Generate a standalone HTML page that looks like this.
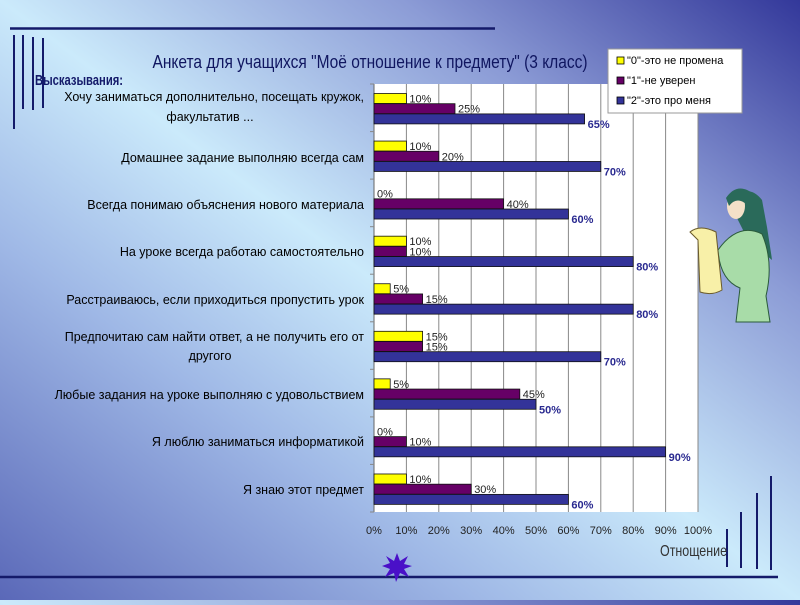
<!DOCTYPE html>
<html><head><meta charset="utf-8"><style>
html,body{margin:0;padding:0;}
body{width:800px;height:600px;overflow:hidden;background:linear-gradient(to top right,#5a68b8 0%,#9fb8e6 30%,#cbeafb 50%,#8c9cd6 75%,#33389a 100%);font-family:"Liberation Sans",sans-serif;}
svg text{font-family:"Liberation Sans",sans-serif;}
</style></head><body>
<svg width="800" height="600" viewBox="0 0 800 600" xmlns="http://www.w3.org/2000/svg">
<line x1="10" y1="28.5" x2="495" y2="28.5" stroke="#141a6a" stroke-width="2.5"/>
<line x1="0" y1="577" x2="778" y2="577" stroke="#141a6a" stroke-width="2.5"/>
<g stroke="#141a6a" stroke-width="2">
<line x1="14" y1="35" x2="14" y2="129"/><line x1="23" y1="35" x2="23" y2="109"/>
<line x1="33" y1="37" x2="33" y2="110"/><line x1="43" y1="38" x2="43" y2="108"/>
<line x1="727" y1="529" x2="727" y2="567"/><line x1="741" y1="512" x2="741" y2="568"/>
<line x1="757" y1="493" x2="757" y2="569"/><line x1="771" y1="476" x2="771" y2="570"/>
</g>
<polygon points="397,553 400,561 408,556 404,564 412,566 404,569 409,577 400,573 396,582 394,573 385,577 390,569 382,566 390,563 386,556 394,561" fill="#4a10c8"/>
<text x="370" y="68" font-size="18" fill="#101660" text-anchor="middle" textLength="435" lengthAdjust="spacingAndGlyphs">Анкета для учащихся "Моё отношение к предмету" (3 класс)</text>
<text x="35" y="85" font-size="15" font-weight="bold" fill="#141a6a" textLength="88" lengthAdjust="spacingAndGlyphs">Высказывания:</text>
<rect x="374" y="84" width="324" height="428" fill="#fff"/>
<g stroke="#888" stroke-width="1">
<line x1="406.4" y1="84" x2="406.4" y2="512"/><line x1="438.8" y1="84" x2="438.8" y2="512"/>
<line x1="471.2" y1="84" x2="471.2" y2="512"/><line x1="503.6" y1="84" x2="503.6" y2="512"/>
<line x1="536" y1="84" x2="536" y2="512"/><line x1="568.4" y1="84" x2="568.4" y2="512"/>
<line x1="600.8" y1="84" x2="600.8" y2="512"/><line x1="633.2" y1="84" x2="633.2" y2="512"/>
<line x1="665.6" y1="84" x2="665.6" y2="512"/><line x1="698" y1="84" x2="698" y2="512"/>
<line x1="374" y1="84" x2="374" y2="512" stroke="#666"/>
<line x1="370" y1="84" x2="374" y2="84"/><line x1="370" y1="131.6" x2="374" y2="131.6"/>
<line x1="370" y1="179.1" x2="374" y2="179.1"/><line x1="370" y1="226.7" x2="374" y2="226.7"/>
<line x1="370" y1="274.2" x2="374" y2="274.2"/><line x1="370" y1="321.8" x2="374" y2="321.8"/>
<line x1="370" y1="369.3" x2="374" y2="369.3"/><line x1="370" y1="416.9" x2="374" y2="416.9"/>
<line x1="370" y1="464.4" x2="374" y2="464.4"/><line x1="370" y1="512" x2="374" y2="512"/>
</g>
<g id="bars" stroke="#111" stroke-width="0.8"></g>
<g id="vals" font-size="11"></g>
<g id="labs" font-size="12.5" fill="#000"></g>
<g font-size="11" fill="#222" text-anchor="middle">
<text x="374" y="534">0%</text><text x="406.4" y="534">10%</text><text x="438.8" y="534">20%</text>
<text x="471.2" y="534">30%</text><text x="503.6" y="534">40%</text><text x="536" y="534">50%</text>
<text x="568.4" y="534">60%</text><text x="600.8" y="534">70%</text><text x="633.2" y="534">80%</text>
<text x="665.6" y="534">90%</text><text x="698" y="534">100%</text>
</g>
<text x="660" y="556" font-size="16" fill="#333" textLength="67" lengthAdjust="spacingAndGlyphs">Отнощение</text>
<rect x="608" y="49" width="134" height="64" fill="#fff" stroke="#999"/>
<rect x="617" y="57" width="7" height="7" fill="#ff0" stroke="#000" stroke-width="0.8"/>
<rect x="617" y="77" width="7" height="7" fill="#660066" stroke="#000" stroke-width="0.8"/>
<rect x="617" y="97" width="7" height="7" fill="#333399" stroke="#000" stroke-width="0.8"/>
<g font-size="11" fill="#000">
<text x="627" y="64">"0"-это не промена</text>
<text x="627" y="84">"1"-не уверен</text>
<text x="627" y="104">"2"-это про меня</text>
</g>
<g>
<path d="M728 200 Q748 182 762 200 Q768 230 772 260 L748 240 Z" fill="#2a6a5a"/>
<ellipse cx="736" cy="206" rx="9" ry="13" fill="#f4e0c8"/>
<path d="M726 198 Q738 180 756 196 L750 208 Q738 194 729 206 Z" fill="#2a6a5a"/>
<path d="M718 250 Q738 222 762 234 Q774 262 766 296 L770 322 L736 322 L740 288 Q720 280 718 250 Z" fill="#a8dca8" stroke="#2a5a3a" stroke-width="1"/>
<path d="M690 232 Q700 224 716 232 L722 290 Q712 296 700 292 L698 240 Z" fill="#f8f0a8" stroke="#6a5a2a" stroke-width="1"/>
</g>
</svg>
<script>
var data=[[10,25,65],[10,20,70],[0,40,60],[10,10,80],[5,15,80],[15,15,70],[5,45,50],[0,10,90],[10,30,60]];
var cols=["#ffff00","#660066","#333399"];
var bars=document.getElementById("bars"),vals=document.getElementById("vals"),ns="http://www.w3.org/2000/svg";
var bh=47.56;
data.forEach(function(d,i){
 var top=84+i*bh+9.5;
 d.forEach(function(v,j){
  var y=top+j*10.2,w=v*3.24;
  if(v>0){var r=document.createElementNS(ns,"rect");r.setAttribute("x",374);r.setAttribute("y",y);r.setAttribute("width",w);r.setAttribute("height",10);r.setAttribute("fill",cols[j]);bars.appendChild(r);}
  var t=document.createElementNS(ns,"text");t.setAttribute("x",374+w+3);t.setAttribute("y",j==2?y+14:y+9);
  t.setAttribute("fill",j==2?"#2a2a90":"#222");if(j==2)t.setAttribute("font-weight","bold");t.textContent=v+"%";vals.appendChild(t);
 });
});
var labs=[["Хочу заниматься дополнительно, посещать кружок,",101,"e"],["факультатив ...",121,"m"],
["Домашнее задание выполняю всегда сам",162,"e"],["Всегда понимаю объяснения нового материала",209,"e"],
["На уроке всегда работаю самостоятельно",256,"e"],["Расстраиваюсь, если приходиться пропустить урок",304,"e"],
["Предпочитаю сам найти ответ, а не получить его от",341,"e"],["другого",360,"m"],
["Любые задания на уроке выполняю с удовольствием",399,"e"],["Я люблю заниматься информатикой",446,"e"],["Я знаю этот предмет",494,"e"]];
var lg=document.getElementById("labs");
labs.forEach(function(l){var t=document.createElementNS(ns,"text");t.setAttribute("x",l[2]=="e"?364:210);t.setAttribute("y",l[1]);
t.setAttribute("text-anchor",l[2]=="e"?"end":"middle");t.textContent=l[0];lg.appendChild(t);});
</script>
</body></html>
